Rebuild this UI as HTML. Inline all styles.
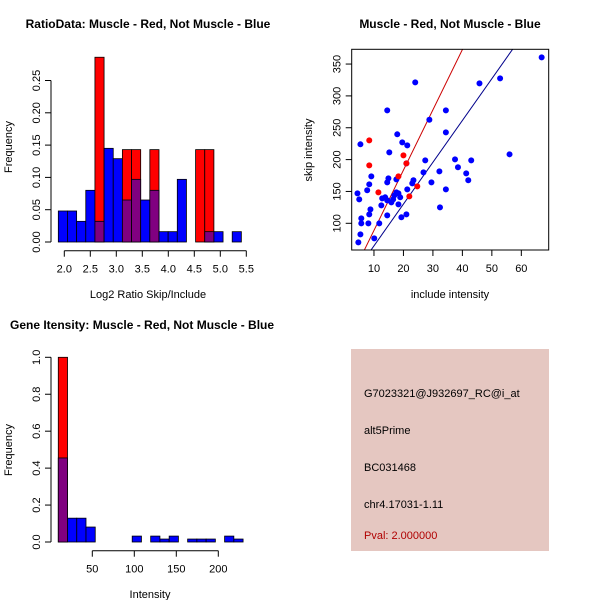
<!DOCTYPE html>
<html><head><meta charset="utf-8">
<style>
html,body{margin:0;padding:0;background:#fff;}
svg{display:block;font-family:"Liberation Sans",sans-serif;}
</style></head>
<body>
<svg id="chart" width="600" height="600" viewBox="0 0 600 600" xmlns="http://www.w3.org/2000/svg">
<rect width="600" height="600" fill="#fff"/>
<g id="p1"></g>
<g id="p2"></g>
<g id="p3"></g>
<g id="p4">
<rect x="351" y="349" width="198" height="202" fill="#e5c7c1"/>
<text x="364" y="397" font-size="11">G7023321@J932697_RC@i_at</text>
<text x="364" y="434" font-size="11">alt5Prime</text>
<text x="364" y="471" font-size="11">BC031468</text>
<text x="364" y="508" font-size="11">chr4.17031-1.11</text>
<text x="364" y="539" font-size="11" fill="#b00000">Pval: 2.000000</text>
</g>
</svg>
<script>
// Panel 1 data
const ratioBinStart = 1.885, ratioBinWidth = 0.176;
const ratioBlue = [0.048,0.048,0.032,0.080,0.032,0.145,0.129,0.065,0.097,0.065,0.080,0.016,0.016,0.097,0,0,0.016,0.016,0,0.016];
const ratioRed  = [0,0,0,0,0.286,0,0,0.143,0.143,0,0.143,0,0,0,0,0.143,0.143,0,0,0];
const ratioYTicks = [0,0.05,0.10,0.15,0.20,0.25];
const ratioYLabels = ["0.00","0.05","0.10","0.15","0.20","0.25"];
const ratioXTicks = [2.0,2.5,3.0,3.5,4.0,4.5,5.0,5.5];
const ratioXLabels = ["2.0","2.5","3.0","3.5","4.0","4.5","5.0","5.5"];
// Panel 2 data
const incBlue = [66.9,52.8,45.8,24.0,14.5,34.4,28.8,34.4,17.9,19.6,21.3,5.4,15.2,56.0,37.5,43.0,27.4,38.5,21.0,9.1,41.3,26.8,32.2,42.0,14.9,17.6,23.4,23.0,14.5,29.5,8.4,4.4,5.0,7.7,21.3,34.4,13.8,12.8,15.9,17.6,18.3,16.9,18.9,18.3,12.5,14.5,16.5,32.4,8.8,8.4,14.5,21.0,19.3,5.7,5.7,8.1,11.8,5.4,10.1,4.7];
const skipBlue = [360.5,327.6,319.7,321.3,277.3,277.3,262.6,242.8,239.7,227.1,222.4,224,211.4,208.3,200.4,198.8,198.8,187.9,194.1,173.7,178.4,180,181.6,167.5,170.6,169,167.5,162.7,164.3,164.3,161.2,147,137.6,151.8,153.3,153.3,140.8,139.2,132.9,148.6,147,143.9,140.8,129.8,128.2,136,137.6,125,121.9,114.1,112.5,114.1,109.4,107.8,99.9,99.9,99.9,82.7,76.4,70.1];
const incRed = [8.4,8.4,11.5,20.0,18.3,22.0,24.7,21.0];
const skipRed = [230.2,191,148.6,206.7,173.7,142.3,158,194.1];
const redFit = [9.46,-5.7];   // slope, intercept
const blueFit = [6.56,-1.0];
const scXTicks = [10,20,30,40,50,60];
const scYTicks = [100,150,200,250,300,350];
// Panel 3 data
const intBinStart = 9.5, intBinWidth = 11.0;
const intBlue = [0.455,0.129,0.129,0.081,0,0,0,0,0.032,0,0.032,0.016,0.032,0,0.016,0.016,0.016,0,0.032,0.016];
const intRed  = [1.0,0,0,0,0,0,0,0,0,0,0,0,0,0,0,0,0,0,0,0];
const intYTicks = [0,0.2,0.4,0.6,0.8,1.0];
const intYLabels = ["0.0","0.2","0.4","0.6","0.8","1.0"];
const intXTicks = [50,100,150,200];

const NS="http://www.w3.org/2000/svg";
function mk(parent,tag,attrs,txt){const e=document.createElementNS(NS,tag);for(const k in attrs)e.setAttribute(k,attrs[k]);if(txt!==undefined)e.textContent=txt;parent.appendChild(e);return e;}

function histogram(g,opt){
  const sx=v=>opt.x0+(v-opt.xv0)*opt.kx, sy=v=>opt.y0-v*opt.ky;
  for(let i=0;i<opt.blue.length;i++){
    const a=opt.bs+i*opt.bw, b=a+opt.bw, x=sx(a), w=sx(b)-x;
    const bl=opt.blue[i], rd=opt.red[i], m=Math.min(bl,rd), mx=Math.max(bl,rd);
    if(mx>0){
      const r=mk(g,'rect',{x:x,y:sy(mx),width:w,height:sy(0)-sy(mx),fill:rd>bl?'#ff0000':'#0000ff',stroke:'#000','stroke-width':0.8});
      
      
    }
    if(m>0){
      const r=mk(g,'rect',{x:x,y:sy(m),width:w,height:sy(0)-sy(m),fill:'#800080',stroke:'#000','stroke-width':0.8});
      
      
    }
  }
  const yax=mk(g,'g',{});
  
  
  const yt=opt.yt;
  mk(yax,'line',{x1:opt.yax,x2:opt.yax,y1:sy(yt[0]),y2:sy(yt[yt.length-1]),stroke:'#000'});
  yt.forEach((t,i)=>{const y=sy(t);mk(yax,'line',{x1:opt.yax-6,x2:opt.yax,y1:y,y2:y,stroke:'#000'});
    const tx=opt.yax-11;mk(yax,'text',{x:tx,y:y,'font-size':11,'text-anchor':'middle',transform:`rotate(-90 ${tx} ${y})`},opt.yl[i]);});
  const xax=mk(g,'g',{});
  
  
  const xt=opt.xt;
  mk(xax,'line',{x1:sx(xt[0]),x2:sx(xt[xt.length-1]),y1:opt.xay,y2:opt.xay,stroke:'#000'});
  xt.forEach((t,i)=>{const x=sx(t);mk(xax,'line',{x1:x,x2:x,y1:opt.xay,y2:opt.xay+6,stroke:'#000'});
    mk(xax,'text',{x:x,y:opt.xay+22,'font-size':11,'text-anchor':'middle'},opt.xl[i]);});
}

// Panel 1
const p1=document.getElementById('p1');
histogram(p1,{x0:64.3,xv0:2.0,kx:52,y0:242,ky:646,bs:ratioBinStart,bw:ratioBinWidth,blue:ratioBlue,red:ratioRed,yt:ratioYTicks,yl:ratioYLabels,xt:ratioXTicks,xl:ratioXLabels,yax:51,xay:250.7});
let t=mk(p1,'text',{x:148,y:28,'font-size':12,'font-weight':'bold','text-anchor':'middle'},'RatioData: Muscle - Red, Not Muscle - Blue');


t=mk(p1,'text',{x:148,y:298,'font-size':11,'text-anchor':'middle'},'Log2 Ratio Skip/Include');


t=mk(p1,'text',{x:12,y:147,'font-size':11,'text-anchor':'middle',transform:'rotate(-90 12 147)'},'Frequency');



// Panel 2
const p2=document.getElementById('p2');
const bx0=351.7,bx1=548.7,by0=49.3,by1=250;
const scx=v=>344.5+v*2.947, scy=v=>287-v*0.637;
const clip=mk(p2,'clipPath',{id:'sc'});mk(clip,'rect',{x:bx0,y:by0,width:bx1-bx0,height:by1-by0});
const pts=mk(p2,'g',{'clip-path':'url(#sc)'});
function fitLine(f,col,name){const xa=0,xb=80;const l=mk(pts,'line',{x1:scx(xa),y1:scy(f[0]*xa+f[1]),x2:scx(xb),y2:scy(f[0]*xb+f[1]),stroke:col,'stroke-width':1});
  
  }
fitLine(redFit,'#cc0000','red-fit-line');
fitLine(blueFit,'#00008b','blue-fit-line');
incBlue.forEach((v,i)=>{const c=mk(pts,'circle',{cx:scx(v),cy:scy(skipBlue[i]),r:3,fill:'#0000ff'});
  
  });
incRed.forEach((v,i)=>{const c=mk(pts,'circle',{cx:scx(v),cy:scy(skipRed[i]),r:3,fill:'#ff0000'});
  
  });
mk(p2,'rect',{x:bx0,y:by0,width:bx1-bx0,height:by1-by0,fill:'none',stroke:'#000'});
scXTicks.forEach(v=>{const x=scx(v);mk(p2,'line',{x1:x,x2:x,y1:by1,y2:by1+6,stroke:'#000'});
  mk(p2,'text',{x:x,y:by1+22,'font-size':11,'text-anchor':'middle'},String(v));});
scYTicks.forEach(v=>{const y=scy(v),tx=bx0-11;mk(p2,'line',{x1:bx0-6,x2:bx0,y1:y,y2:y,stroke:'#000'});
  mk(p2,'text',{x:tx,y:y,'font-size':11,'text-anchor':'middle',transform:`rotate(-90 ${tx} ${y})`},String(v));});
t=mk(p2,'text',{x:450,y:28,'font-size':12,'font-weight':'bold','text-anchor':'middle'},'Muscle - Red, Not Muscle - Blue');


t=mk(p2,'text',{x:450,y:298,'font-size':11,'text-anchor':'middle'},'include intensity');


t=mk(p2,'text',{x:312,y:150,'font-size':11,'text-anchor':'middle',transform:'rotate(-90 312 150)'},'skip intensity');



// Panel 3
const p3=document.getElementById('p3');
histogram(p3,{x0:50.3,xv0:0,kx:0.84,y0:542,ky:184.7,bs:intBinStart,bw:intBinWidth,blue:intBlue,red:intRed,yt:intYTicks,yl:intYLabels,xt:intXTicks,xl:intXTicks.map(String),yax:51,xay:550.7});
t=mk(p3,'text',{x:10,y:329,'font-size':12,'font-weight':'bold'},'Gene Itensity: Muscle - Red, Not Muscle - Blue');


t=mk(p3,'text',{x:150,y:598,'font-size':11,'text-anchor':'middle'},'Intensity');


t=mk(p3,'text',{x:12,y:450,'font-size':11,'text-anchor':'middle',transform:'rotate(-90 12 450)'},'Frequency');


</script>
</body></html>
